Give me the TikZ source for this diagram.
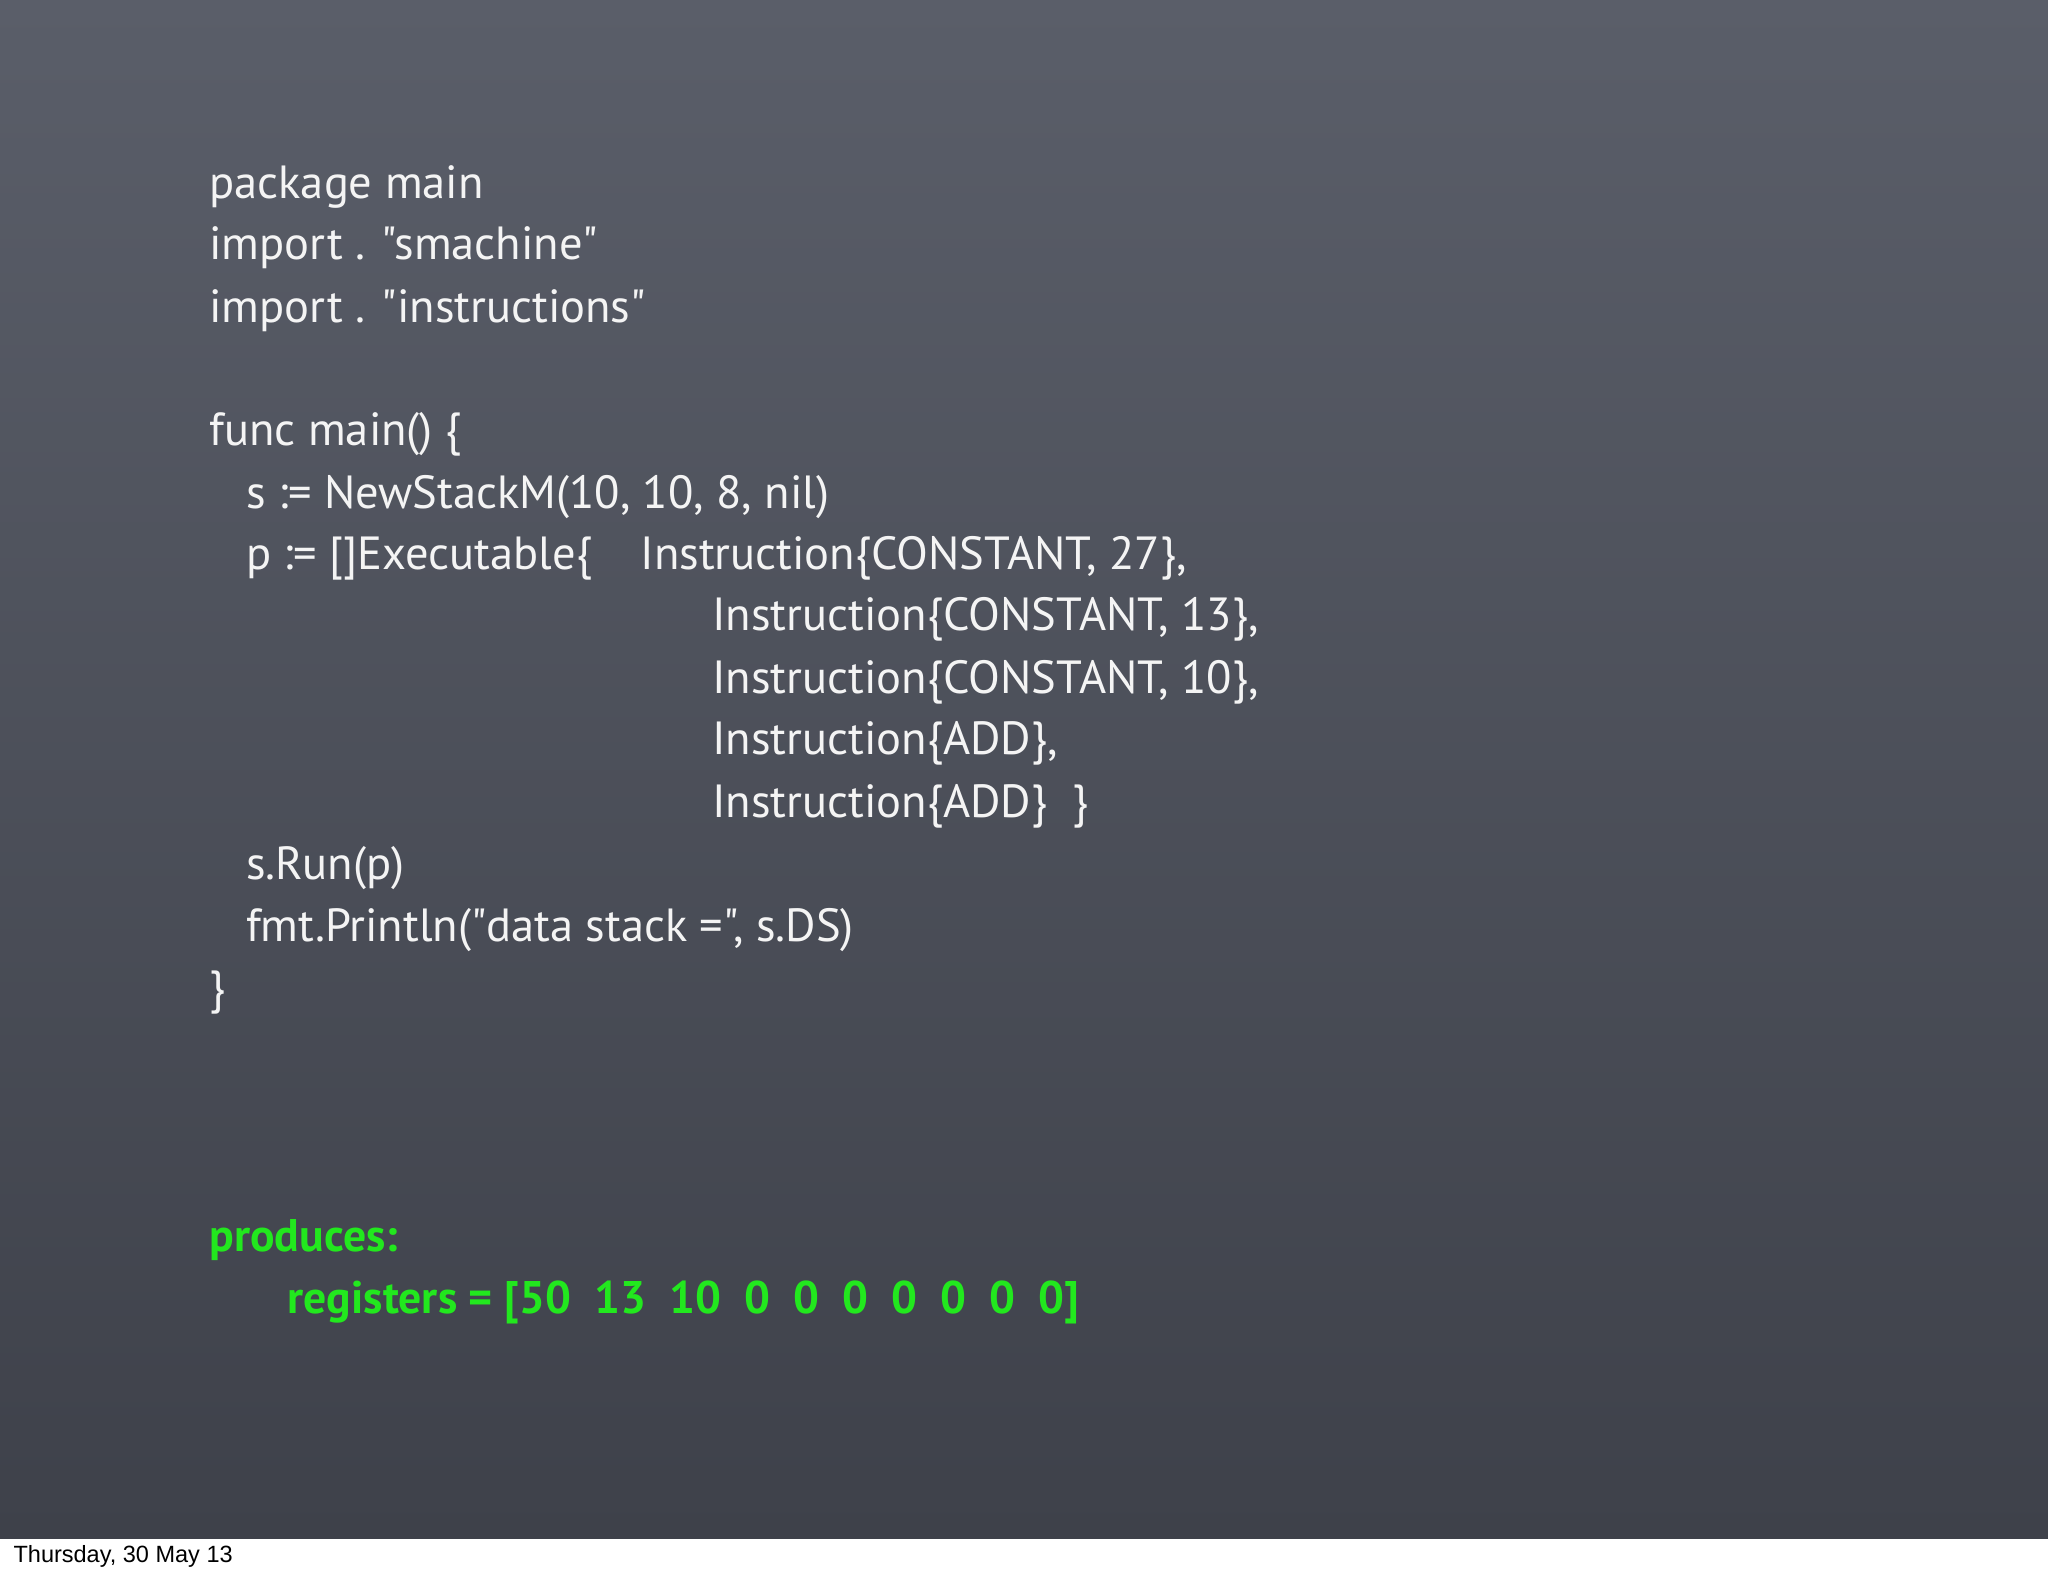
\documentclass[tikz,border=0pt]{standalone}
\usepackage{fontspec}
\setmainfont[Mapping=]{PT Sans}
\newfontfamily\datefont{Liberation Sans}
\newcommand{\dq}{\char34 }
\definecolor{boardtop}{HTML}{5A5E69}
\definecolor{boardbot}{HTML}{3E414A}
\definecolor{chalk}{HTML}{F4F4F4}
\definecolor{chalkgreen}{HTML}{22E81E}
\begin{document}
\begin{tikzpicture}[x=0.5pt,y=-0.5pt,
  code/.style={anchor=base west,inner sep=0pt,text=chalk,font=\fontsize{17.8}{20}\selectfont},
  green/.style={anchor=base west,inner sep=0pt,text=chalkgreen,font=\fontsize{17.5}{20}\selectfont\bfseries}]
\useasboundingbox (0,0) rectangle (1568,1206);
\shade[top color=boardtop,bottom color=boardbot] (0,0) rectangle (1568,1178);
\fill[white] (0,1178) rectangle (1568,1206);
\node[code] (l1) at (160,152) {package main};
\node[code] (l2) at (160,199) {import . \dq smachine\dq};
\node[code] (l3) at (160,247) {import . \dq instructions\dq};
\node[code] (l4) at (160,341) {func main() \{};
\node[code] (l5) at (188,389) {s := NewStackM(10, 10, 8, nil)};
\node[code] (l6) at (188,436) {p := []Executable\{};
\node[code] (l6b) at (490,436) {Instruction\{CONSTANT, 27\},};
\node[code] (l7) at (545,483) {Instruction\{CONSTANT, 13\},};
\node[code] (l8) at (545,531) {Instruction\{CONSTANT, 10\},};
\node[code] (l9) at (545,578) {Instruction\{ADD\},};
\node[code] (l10) at (545,626) {Instruction\{ADD\} \ \}};
\node[code] (l11) at (188,673) {s.Run(p)};
\node[code] (l12) at (188,721) {fmt.Println(\dq data stack =\dq, s.DS)};
\node[code] (l13) at (160,768) {\}};
\node[green] (g1) at (160,958) {produces:};
\node[green] (g2) at (220,1006) {registers = [50 \ 13 \ 10 \ 0 \ 0 \ 0 \ 0 \ 0 \ 0 \ 0]};
\node[anchor=base west,inner sep=0pt,font=\datefont\fontsize{9}{10}\selectfont] (date) at (10,1196) {Thursday, 30 May 13};
\end{tikzpicture}
\end{document}
